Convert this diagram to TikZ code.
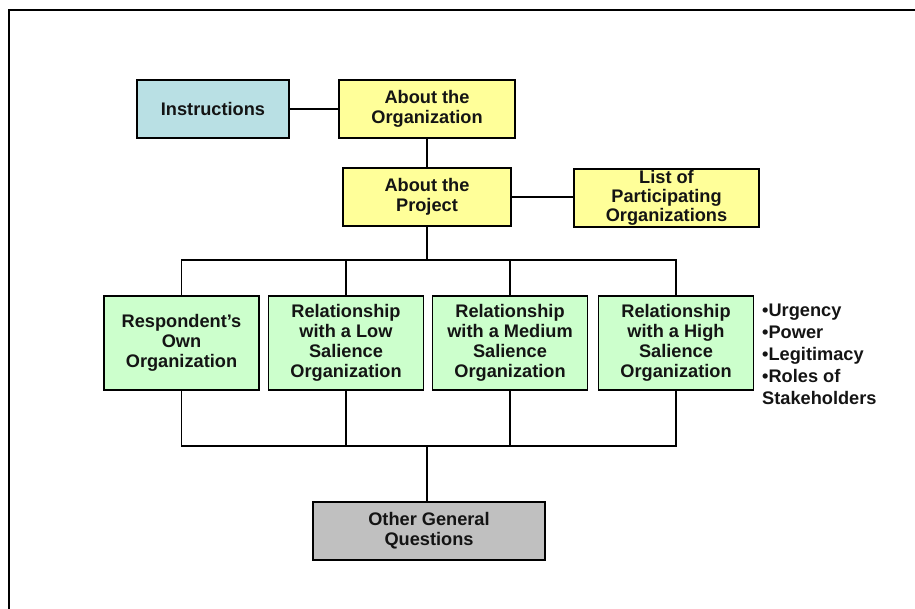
\documentclass[tikz,border=0pt]{standalone}
\usepackage{fontspec}
\setmainfont{Liberation Sans}
\definecolor{instrfill}{RGB}{185,224,228}
\definecolor{yelfill}{RGB}{255,255,153}
\definecolor{grnfill}{RGB}{204,255,204}
\definecolor{gryfill}{RGB}{192,192,192}
\definecolor{txt}{RGB}{20,20,20}
\begin{document}
\begin{tikzpicture}[x=1pt,y=-1pt,
  box/.style={draw=black,line width=1.6pt,align=center,inner sep=0pt,
    font=\fontsize{18.2}{20}\selectfont\bfseries,text=txt},
  conn/.style={draw=black,line width=1.4pt}]
\useasboundingbox (0,0) rectangle (915,609);
\draw[line width=2pt] (9,612) -- (9,10) -- (918,10);
\node[box,fill=instrfill,minimum width=152pt,minimum height=58pt] (instr) at (213,109) {Instructions};
\node[box,fill=yelfill,minimum width=176pt,minimum height=58pt] (org) at (427,109) {About the\\Organization};
\node[box,fill=yelfill,minimum width=168pt,minimum height=58pt] (proj) at (427,197) {About the\\Project};
\node[box,fill=yelfill,minimum width=185pt,minimum height=58pt,
  font=\fontsize{18.2}{19}\selectfont\bfseries] (list) at (666.5,198) {List of\\Participating\\Organizations};
\node[box,fill=grnfill,minimum width=155pt,minimum height=94pt] (g1) at (181.5,343) {Respondent’s\\Own\\Organization};
\node[box,fill=grnfill,minimum width=155pt,minimum height=94pt] (g2) at (346,343) {Relationship\\with a Low\\Salience\\Organization};
\node[box,fill=grnfill,minimum width=155pt,minimum height=94pt] (g3) at (510,343) {Relationship\\with a Medium\\Salience\\Organization};
\node[box,fill=grnfill,minimum width=155pt,minimum height=94pt] (g4) at (676,343) {Relationship\\with a High\\Salience\\Organization};
\node[box,fill=gryfill,minimum width=232pt,minimum height=58pt] (other) at (429,531) {Other General\\Questions};
\node[anchor=north west,align=left,inner sep=0pt,text=txt,
  font=\fontsize{18.2}{22}\selectfont\bfseries] (bul) at (762,304)
  {•Urgency\\•Power\\•Legitimacy\\•Roles of\\Stakeholders};
\coordinate (busT) at (427,260);
\coordinate (busB) at (427,446);
\draw[conn] (instr.east) -- (org.west);
\draw[conn] (org.south) -- (proj.north);
\draw[conn] (proj.east) -- (list.west |- proj.east);
\draw[conn] (proj.south) -- (busT);
\draw[conn] (g1.north) |- (busT) -| (g4.north);
\draw[conn] (g2.north) |- (busT);
\draw[conn] (g3.north) |- (busT);
\draw[conn] (g1.south) |- (busB) -| (g4.south);
\draw[conn] (g2.south) |- (busB);
\draw[conn] (g3.south) |- (busB);
\draw[conn] (busB) -- (busB |- other.north);
\end{tikzpicture}
\end{document}
